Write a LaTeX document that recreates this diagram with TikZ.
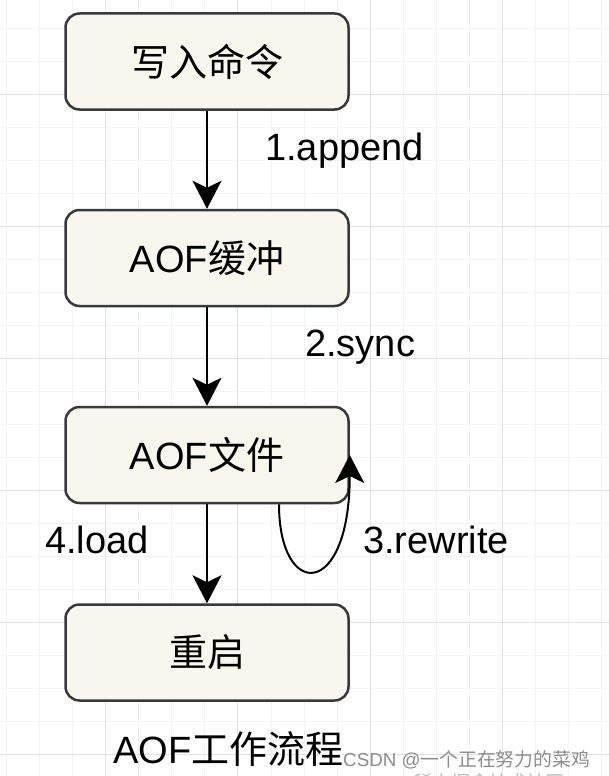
\documentclass[tikz,border=0pt]{standalone}
\usepackage{fontspec}
\setmainfont{Liberation Sans}
\newfontfamily\cjk{Noto Sans CJK SC}
\usetikzlibrary{arrows.meta}
\definecolor{boxfill}{HTML}{F9F7ED}
\definecolor{boxdraw}{HTML}{36393D}
\definecolor{gridminor}{HTML}{F3F3F3}
\definecolor{gridmajor}{HTML}{E2E2E2}
\definecolor{wmgray}{HTML}{8C8C8C}
\begin{document}
\begin{tikzpicture}[x=1pt,y=-1pt,
  flowbox/.style={draw=boxdraw, line width=2.5pt, fill=boxfill, rounded corners=14pt,
    minimum width=283pt, minimum height=96pt, inner sep=0pt, font=\fontsize{38}{44}\selectfont},
  flowarrow/.style={line width=2pt, -{Stealth[length=28pt,width=29pt,inset=7pt]}},
  lbl/.style={anchor=base west, inner sep=0pt, font=\fontsize{38}{44}\selectfont},
  wmtext/.style={anchor=base west, inner sep=0pt, text=wmgray, font=\fontsize{18.8}{22}\selectfont}]
\useasboundingbox (0,0) rectangle (609,776);
\fill[white] (0,0) rectangle (609,776);
\begin{scope}
\clip (0,0) rectangle (609,776);
% grid
\foreach \i in {0,...,18} {
  \pgfmathsetmacro\xx{6.6+33.05*\i}
  \draw[gridminor, line width=1pt] (\xx,0) -- (\xx,776);
}
\foreach \i in {0,...,23} {
  \pgfmathsetmacro\yy{28.3+33*\i}
  \draw[gridminor, line width=1pt] (0,\yy) -- (609,\yy);
}
\foreach \i in {0,...,3} {
  \pgfmathsetmacro\xx{105.6+132.2*\i}
  \draw[gridmajor, line width=1pt] (\xx,0) -- (\xx,776);
}
\foreach \i in {0,...,5} {
  \pgfmathsetmacro\yy{94.3+132*\i}
  \draw[gridmajor, line width=1pt] (0,\yy) -- (609,\yy);
}
\node[wmtext, text=wmgray!60] (wm2) at (400,789) {©{\cjk 稀土掘金技术社区}};
\end{scope}

% boxes
\node[flowbox] (cmd) at (207,61.5) {\cjk 写入命令};
\node[flowbox] (buf) at (207,258) {AOF{\cjk 缓冲}};
\node[flowbox] (file) at (207,455) {AOF{\cjk 文件}};
\node[flowbox] (restart) at (207,652.5) {\cjk 重启};

% connectors
\draw[flowarrow] (cmd) -- (buf);
\draw[flowarrow] (buf) -- (file);
\draw[flowarrow] (file) -- (restart);
\draw[flowarrow] ([xshift=72pt]file.south) .. controls +(0,96) and +(0,145) .. (file.east);

% labels
\node[lbl] (l1) at (265,160) {1.append};
\node[lbl] (l2) at (305,356) {2.sync};
\node[lbl] (l4) at (45,553) {4.load};
\node[lbl] (l3) at (363,553) {3.rewrite};
\node[lbl] (title) at (113,763) {AOF{\cjk 工作流程}};
\node[wmtext] (wm1) at (343,766) {CSDN @{\cjk 一个正在努力的菜鸡}};
\end{tikzpicture}
\end{document}
